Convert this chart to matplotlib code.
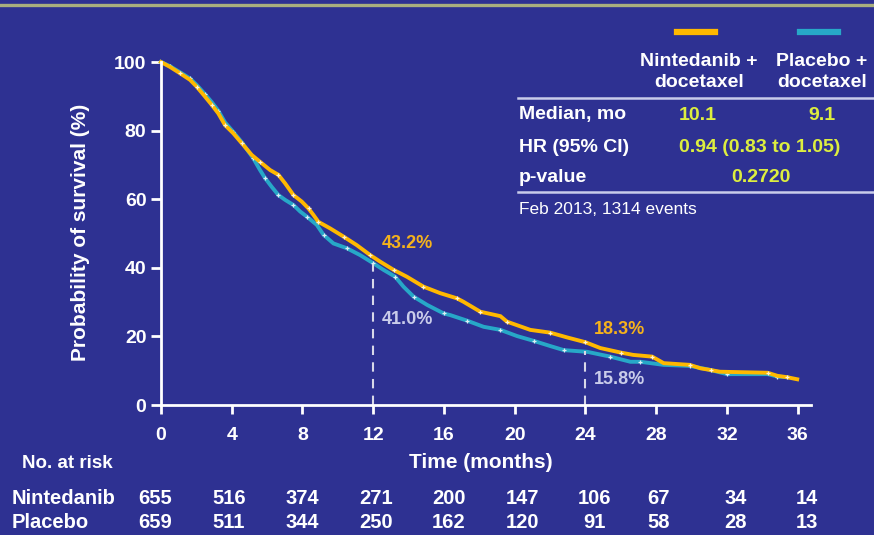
import matplotlib
matplotlib.use("Agg")
import matplotlib.pyplot as plt
from matplotlib.lines import Line2D

# ---------------- data ----------------
nin_t = [0, 0.5, 1.08, 1.64, 2.02, 2.49, 2.87, 3.24, 3.62, 4.09, 4.57, 5.13, 5.6, 6.17,
         6.64, 7.02, 7.49, 7.96, 8.34, 8.62, 8.9, 9.56, 10.32, 11.07, 11.83, 12.39, 13.15,
         13.9, 14.84, 15.79, 16.73, 17.1, 18.05, 19.19, 19.56, 20.88, 22.0, 22.96, 24.0,
         24.84, 25.98, 26.7, 27.77, 28.42, 29.9, 30.5, 31.07, 31.6, 34.3, 34.85, 35.4, 35.97]
nin_s = [100, 98.6, 96.7, 94.8, 92.8, 89.9, 87.5, 85.0, 81.6, 79.2, 76.3, 72.9, 70.9, 68.5,
         67.1, 64.6, 61.2, 59.3, 57.3, 55.4, 53.4, 51.5, 49.1, 46.6, 43.7, 41.8, 39.4,
         37.4, 34.5, 32.6, 31.1, 30.1, 27.2, 25.9, 24.3, 21.9, 21.1, 19.7, 18.3,
         16.6, 15.3, 14.6, 14.1, 12.2, 11.7, 10.7, 10.2, 9.7, 9.4, 8.5, 8.1, 7.5]

pla_t = [0, 0.5, 1.08, 1.64, 2.02, 2.49, 2.87, 3.24, 3.62, 4.09, 4.57, 5.22, 5.6, 5.89,
         6.26, 6.64, 7.02, 7.49, 7.87, 8.25, 8.81, 9.19, 9.75, 10.51, 11.26, 12.01, 12.58,
         13.24, 13.71, 14.28, 15.04, 15.98, 16.36, 17.3, 18.24, 19.19, 20.13, 21.07, 22.0,
         22.77, 24.1, 25.4, 26.54, 27.1, 28.42, 29.9, 30.9, 32.0, 34.3, 34.85, 35.4]
pla_s = [100, 98.8, 97.0, 95.2, 93.3, 90.6, 88.3, 85.8, 82.4, 79.6, 76.6, 71.9, 68.5, 66.1,
         63.6, 61.2, 59.8, 58.3, 56.4, 54.9, 52.5, 49.6, 47.1, 45.7, 43.7, 41.3, 39.4,
         37.4, 34.5, 31.6, 29.2, 26.7, 26.2, 24.6, 22.8, 21.9, 20.1, 18.7, 17.2,
         16.0, 15.5, 14.1, 12.6, 12.6, 11.7, 11.4, 10.4, 9.0, 9.0, 8.3, 8.1]

landmark_t = [12, 24]
nin_land = [43.2, 18.3]
pla_land = [41.0, 15.8]

x_ticks = [0, 4, 8, 12, 16, 20, 24, 28, 32, 36]
y_ticks = [0, 20, 40, 60, 80, 100]
risk_nin = [655, 516, 374, 271, 200, 147, 106, 67, 34, 14]
risk_pla = [659, 511, 344, 250, 162, 120, 91, 58, 28, 13]

arms = ["Nintedanib +\ndocetaxel", "Placebo +\ndocetaxel"]
medians = ["10.1", "9.1"]
hr_text = "0.94 (0.83 to 1.05)"
p_text = "0.2720"
note_text = "Feb 2013, 1314 events"

# ---------------- style / layout ----------------
BG = "#2E3192"
ORANGE = "#FFB800"
CYAN = "#27A8C8"
ORANGE_TXT = "#F5B21C"
LAV = "#C9CCEA"
YEL = "#DDEE3F"
WHITE = "white"
FONT = "Liberation Sans"
plt.rcParams["font.family"] = [FONT, "DejaVu Sans"]

# horizontal nudge (pixels) of the risk-table columns relative to the ticks
risk_nudge_px = [-6, -3, 0, 3, 5, 8, 9, 2, 9, 9]

W, H = 874, 535
fig = plt.figure(figsize=(W / 100, H / 100), dpi=100, facecolor=BG)


def fx(px):
    return px / W


def fy(py):
    return 1 - py / H


# top rule
fig.add_artist(Line2D([0, 1], [fy(5), fy(5)], color="#A9AF7E", lw=2.4, transform=fig.transFigure))

ax = fig.add_axes([fx(161), fy(405), fx(811) - fx(161), fy(62) - fy(405)])
ax.set_facecolor(BG)
ax.set_xlim(0, 36.75)
ax.set_ylim(0, 100)

ax.plot(pla_t, pla_s, color=CYAN, lw=2.8, clip_on=False, solid_joinstyle="miter",
        marker="+", ms=3.5, mew=0.9, mec="#DDEEF5", markevery=list(range(1, len(pla_t), 2)))
ax.plot(nin_t, nin_s, color=ORANGE, lw=2.8, clip_on=False, solid_joinstyle="miter",
        marker="+", ms=3.5, mew=0.9, mec="#FFF2D0", markevery=list(range(2, len(nin_t), 2)))

for t, v in zip(landmark_t, pla_land):
    ax.plot([t, t], [0, v], color="#D8D8E8", lw=1.5, ls=(0, (4.5, 3.5)), clip_on=False)

# landmark labels
ax.text(12.5, 47.0, f"{nin_land[0]:.1f}%", color=ORANGE_TXT, fontsize=13, fontweight="bold",
        ha="left", va="center")
ax.text(12.5, 24.8, f"{pla_land[0]:.1f}%", color=LAV, fontsize=13, fontweight="bold",
        ha="left", va="center")
ax.text(24.45, 22.0, f"{nin_land[1]:.1f}%", color=ORANGE_TXT, fontsize=13, fontweight="bold",
        ha="left", va="center")
ax.text(24.45, 7.4, f"{pla_land[1]:.1f}%", color=LAV, fontsize=13, fontweight="bold",
        ha="left", va="center")

for s in ["top", "right"]:
    ax.spines[s].set_visible(False)
for s in ["left", "bottom"]:
    ax.spines[s].set_color(WHITE)
    ax.spines[s].set_linewidth(2)
ax.set_xticks(x_ticks)
ax.set_yticks(y_ticks)
ax.tick_params(axis="x", colors=WHITE, width=2, length=6.5, pad=9, labelsize=14)
ax.tick_params(axis="y", colors=WHITE, width=2, length=7, pad=3.5, labelsize=14)
for lab in ax.get_xticklabels() + ax.get_yticklabels():
    lab.set_fontweight("bold")
    lab.set_color(WHITE)

# axis labels
fig.text(fx(481), fy(463), "Time (months)", color=WHITE, fontsize=15, fontweight="bold",
         ha="center", va="center")
fig.text(fx(80), fy(232), "Probability of survival (%)", color=WHITE, fontsize=15,
         fontweight="bold", ha="center", va="center", rotation=90)

# risk table
fig.text(fx(22), fy(464), "No. at risk", color=WHITE, fontsize=13.5, fontweight="bold",
         ha="left", va="center")
fig.text(fx(12), fy(498), "Nintedanib", color=WHITE, fontsize=14.5, fontweight="bold",
         ha="left", va="center")
fig.text(fx(12), fy(522), "Placebo", color=WHITE, fontsize=14.5, fontweight="bold",
         ha="left", va="center")
for t, a, b, dx in zip(x_ticks, risk_nin, risk_pla, risk_nudge_px):
    xd = ax.transData.transform((t, 0))[0] + dx
    xf = fig.transFigure.inverted().transform((xd, 0))[0]
    fig.text(xf, fy(498), str(a), color=WHITE, fontsize=14.5, fontweight="bold",
             ha="center", va="center")
    fig.text(xf, fy(522), str(b), color=WHITE, fontsize=14.5, fontweight="bold",
             ha="center", va="center")

# summary table (top right)
fig.add_artist(Line2D([fx(677), fx(715)], [fy(32), fy(32)], color=ORANGE, lw=4.5,
                      transform=fig.transFigure))
fig.add_artist(Line2D([fx(800), fx(838)], [fy(32), fy(32)], color=CYAN, lw=4.5,
                      transform=fig.transFigure))
fig.text(fx(699), fy(72), arms[0], color=WHITE, fontsize=14, fontweight="bold",
         ha="center", va="center", linespacing=1.3)
fig.text(fx(822), fy(72), arms[1], color=WHITE, fontsize=14, fontweight="bold",
         ha="center", va="center", linespacing=1.3)
fig.add_artist(Line2D([fx(518), 1], [fy(98), fy(98)], color=LAV, lw=1.8,
                      transform=fig.transFigure))
fig.text(fx(519), fy(115), "Median, mo", color=WHITE, fontsize=14, fontweight="bold",
         ha="left", va="center")
fig.text(fx(698), fy(115), medians[0], color=YEL, fontsize=14, fontweight="bold",
         ha="center", va="center")
fig.text(fx(822), fy(115), medians[1], color=YEL, fontsize=14, fontweight="bold",
         ha="center", va="center")
fig.text(fx(519), fy(147), "HR (95% CI)", color=WHITE, fontsize=14, fontweight="bold",
         ha="left", va="center")
fig.text(fx(760), fy(147), hr_text, color=YEL, fontsize=14, fontweight="bold",
         ha="center", va="center")
fig.text(fx(519), fy(178), "p-value", color=WHITE, fontsize=14, fontweight="bold",
         ha="left", va="center")
fig.text(fx(761), fy(178), p_text, color=YEL, fontsize=14, fontweight="bold",
         ha="center", va="center")
fig.add_artist(Line2D([fx(518), 1], [fy(192), fy(192)], color=LAV, lw=1.8,
                      transform=fig.transFigure))
fig.text(fx(519), fy(210), note_text, color=WHITE, fontsize=12.5,
         ha="left", va="center")

fig.savefig("out.png", dpi=100, facecolor=BG)
